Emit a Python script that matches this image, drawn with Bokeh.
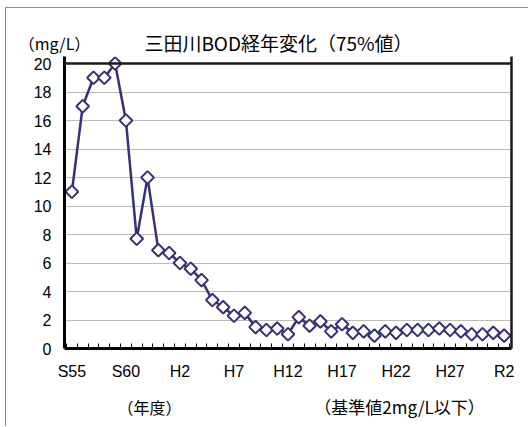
import numpy as np
from bokeh.plotting import figure
from bokeh.layouts import column
from bokeh.models import FixedTicker, Label, ColumnDataSource, Range1d, Span, LinearAxis
from bokeh.embed import file_html
from bokeh.resources import INLINE

# fiscal years S55 (1980) .. R2 (2020)
years = [f"S{y}" for y in range(55, 64)] + [f"H{y}" for y in range(1, 31)] + ["R1", "R2"]
bod_75 = [11.0, 17.0, 19.0, 19.0, 20.0, 16.0, 7.7, 12.0, 6.9, 6.7,
          6.0, 5.6, 4.8, 3.4, 2.9, 2.3, 2.5, 1.5, 1.3, 1.4,
          1.0, 2.2, 1.6, 1.9, 1.2, 1.7, 1.1, 1.2, 0.9, 1.2,
          1.1, 1.3, 1.3, 1.3, 1.4, 1.3, 1.2, 1.0, 1.0, 1.1, 0.9]
tick_labels = ["S55", "S60", "H2", "H7", "H12", "H17", "H22", "H27", "R2"]
y_ticks = list(range(0, 21, 2))
title_text = "三田川BOD経年変化（75%値）"
unit_text = "（mg/L）"
xlabel_text = "（年度）"
note_text = "（基準値2mg/L以下）"

n = len(years)
idx = list(range(n))
src = ColumnDataSource(dict(x=idx, y=bod_75, year=years))

LINE = "#33337a"
JP = "Noto Sans CJK JP"
NUM = "Liberation Sans"
W = 522


def no_align(fig):
    if "frame_align" in fig.properties():
        fig.frame_align = False


# ---------- top strip: unit + title ----------
TOP_H = 48
top = figure(width=W, height=TOP_H, output_backend="svg", toolbar_location=None,
             x_range=Range1d(0, W), y_range=Range1d(0, TOP_H),
             x_axis_type=None, y_axis_type=None, min_border=0,
             outline_line_color=None, border_fill_color="white",
             background_fill_color="white")
top.grid.visible = False
no_align(top)
top.add_layout(Label(x=48, y=14, text=unit_text, text_font=JP, text_font_size="16px",
                     text_align="center", text_baseline="middle", text_color="black"))
top.add_layout(Label(x=272, y=14, text=title_text, text_font=JP, text_font_size="19px",
                     text_align="center", text_baseline="middle", text_color="black"))

# ---------- main chart ----------
pad = 2 / 10.86
MAIN_H = 332
p = figure(width=W, height=MAIN_H, output_backend="svg", toolbar_location=None,
           x_range=Range1d(-0.5 - pad, n - 0.5 + pad),
           y_range=Range1d(0, 292 / 14.25),
           min_border_left=58, min_border_right=17, min_border_top=0,
           min_border_bottom=40, background_fill_color="white",
           border_fill_color="white", outline_line_color=None)
no_align(p)

p.xgrid.grid_line_color = None
p.ygrid.ticker = FixedTicker(ticks=y_ticks[1:-1])
p.ygrid.grid_line_color = "#777777"
p.ygrid.grid_line_dash = "1 1"
p.ygrid.grid_line_width = 1

# plot-area frame: top edge at 20, right edge as a bare axis line
p.add_layout(Span(location=20, dimension="width", line_color="#1a1a1a", line_width=2.5))
right_axis = LinearAxis(ticker=FixedTicker(ticks=[]), axis_line_color="#1a1a1a",
                        axis_line_width=2.5, major_tick_in=0, major_tick_out=0,
                        minor_tick_in=0, minor_tick_out=0,
                        major_label_text_font_size="0px", major_label_standoff=0)
p.add_layout(right_axis, "right")

p.line("x", "y", source=src, line_color=LINE, line_width=2.5)
p.scatter("x", "y", source=src, marker="square", angle=np.pi / 4, size=9,
          line_color=LINE, line_width=2, fill_color="white")

label_pos = [years.index(t) for t in tick_labels]
p.xaxis.ticker = FixedTicker(ticks=label_pos,
                             minor_ticks=[i - 0.5 for i in range(n + 1)])
p.xaxis.major_label_overrides = {i: years[i] for i in label_pos}
p.xaxis.major_tick_in = 0
p.xaxis.major_tick_out = 0
p.xaxis.minor_tick_in = 5
p.xaxis.minor_tick_out = 0
p.xaxis.minor_tick_line_color = "black"
p.xaxis.axis_line_width = 3
p.xaxis.axis_line_color = "black"
p.xaxis.major_label_text_font = NUM
p.xaxis.major_label_text_font_size = "16px"
p.xaxis.major_label_text_color = "black"
p.xaxis.major_label_standoff = 14

yax = p.yaxis[0]
yax.ticker = FixedTicker(ticks=y_ticks)
yax.major_tick_in = 0
yax.major_tick_out = 0
yax.minor_tick_line_color = None
yax.axis_line_color = "black"
yax.axis_line_width = 3
yax.major_label_text_font = NUM
yax.major_label_text_font_size = "16px"
yax.major_label_text_color = "black"
yax.major_label_standoff = 13

# ---------- bottom strip: axis title + note ----------
BOT_H = 38
bot = figure(width=W, height=BOT_H, output_backend="svg", toolbar_location=None,
             x_range=Range1d(0, W), y_range=Range1d(0, BOT_H),
             x_axis_type=None, y_axis_type=None, min_border=0,
             outline_line_color=None, border_fill_color="white",
             background_fill_color="white")
bot.grid.visible = False
no_align(bot)
bot.add_layout(Label(x=143, y=20, text=xlabel_text, text_font=JP, text_font_size="16px",
                     text_align="center", text_baseline="middle", text_color="black"))
bot.add_layout(Label(x=393, y=20, text=note_text, text_font=JP, text_font_size="17px",
                     text_align="center", text_baseline="middle", text_color="black"))

lay = column(top, p, bot, spacing=0,
             styles={"margin-left": "5px", "margin-top": "7px",
                     "border-left": "1px solid #8c8c8c",
                     "border-top": "1px solid #8c8c8c"})

open("out.html", "w").write(file_html(lay, INLINE))
